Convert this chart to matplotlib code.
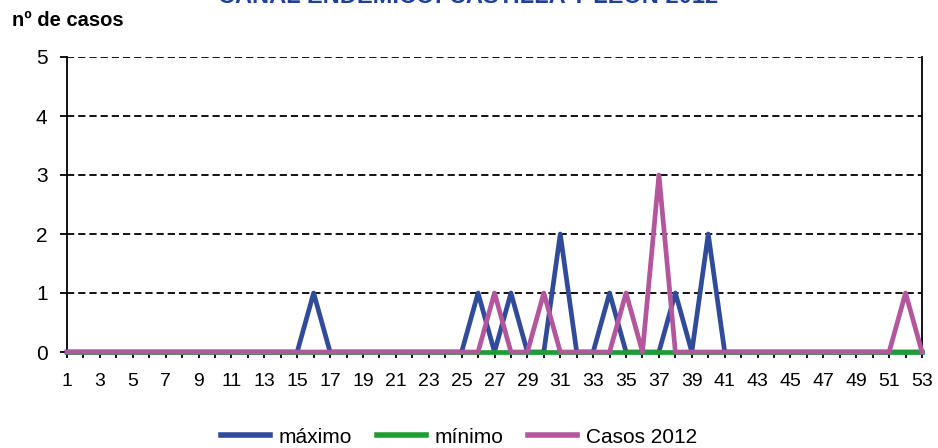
import numpy as np
import matplotlib; matplotlib.use("Agg")
import matplotlib.pyplot as plt
from matplotlib.lines import Line2D

plt.rcParams["font.family"] = ["Liberation Sans", "DejaVu Sans"]

BLUE = "#2F4B9A"; GREEN = "#1E9E32"; PINK = "#B3569C"

# semanas y series (canal endémico)
semanas = list(range(1, 54))
maximo = [0]*53
for s, v in {16: 1, 26: 1, 28: 1, 31: 2, 34: 1, 38: 1, 40: 2}.items():
    maximo[s-1] = v
minimo = [0]*53
casos_2012 = [0]*53
for s, v in {27: 1, 30: 1, 35: 1, 37: 3, 52: 1}.items():
    casos_2012[s-1] = v
etiquetas_x = [str(s) if s % 2 == 1 else "" for s in semanas]

fig = plt.figure(figsize=(9.38, 4.48), dpi=100)
ax = fig.add_axes([67/938, 1-352/448, (922-67)/938, (352-57)/448])

lw = 3.4
ax.plot(semanas, maximo, color=BLUE, lw=lw, zorder=3, clip_on=False)
ax.plot(semanas, minimo, color=GREEN, lw=lw, zorder=3, clip_on=False)
ax.plot(semanas, casos_2012, color=PINK, lw=lw, zorder=4, clip_on=False)

ax.set_xlim(1, 53); ax.set_ylim(0, 5)
ax.set_xticks(semanas); ax.set_xticklabels(etiquetas_x)
ax.set_yticks(range(0, 6))
ax.tick_params(axis="x", length=4, width=1.3, labelsize=14, pad=11, direction="out")
ax.tick_params(axis="y", length=5, width=1.3, labelsize=15, pad=9, direction="out")
for y in range(1, 6):
    ax.axhline(y, color="black", lw=1.3, ls=(0, (4, 2.2)), zorder=1)
ax.spines["top"].set_visible(False)
for sp in ("left", "right", "bottom"):
    ax.spines[sp].set_linewidth(1.3)

fig.text(12/938, 1-20/448, "nº de casos", fontsize=14.5, weight="bold", va="center", ha="left")
fig.text(468/938, 1-3/448, "CANAL ENDÉMICO: CASTILLA Y LEÓN 2012", fontsize=17,
         weight="bold", color="#1F4099", ha="center", va="baseline")

handles = [Line2D([], [], color=c, lw=4) for c in (BLUE, GREEN, PINK)]
fig.legend(handles, ["máximo", "mínimo", "Casos 2012"], loc="center",
           bbox_to_anchor=(459/938, 1-437/448), ncol=3, frameon=False,
           fontsize=15, handlelength=2.35, columnspacing=1.2, handletextpad=0.4)

fig.savefig("out.png")
